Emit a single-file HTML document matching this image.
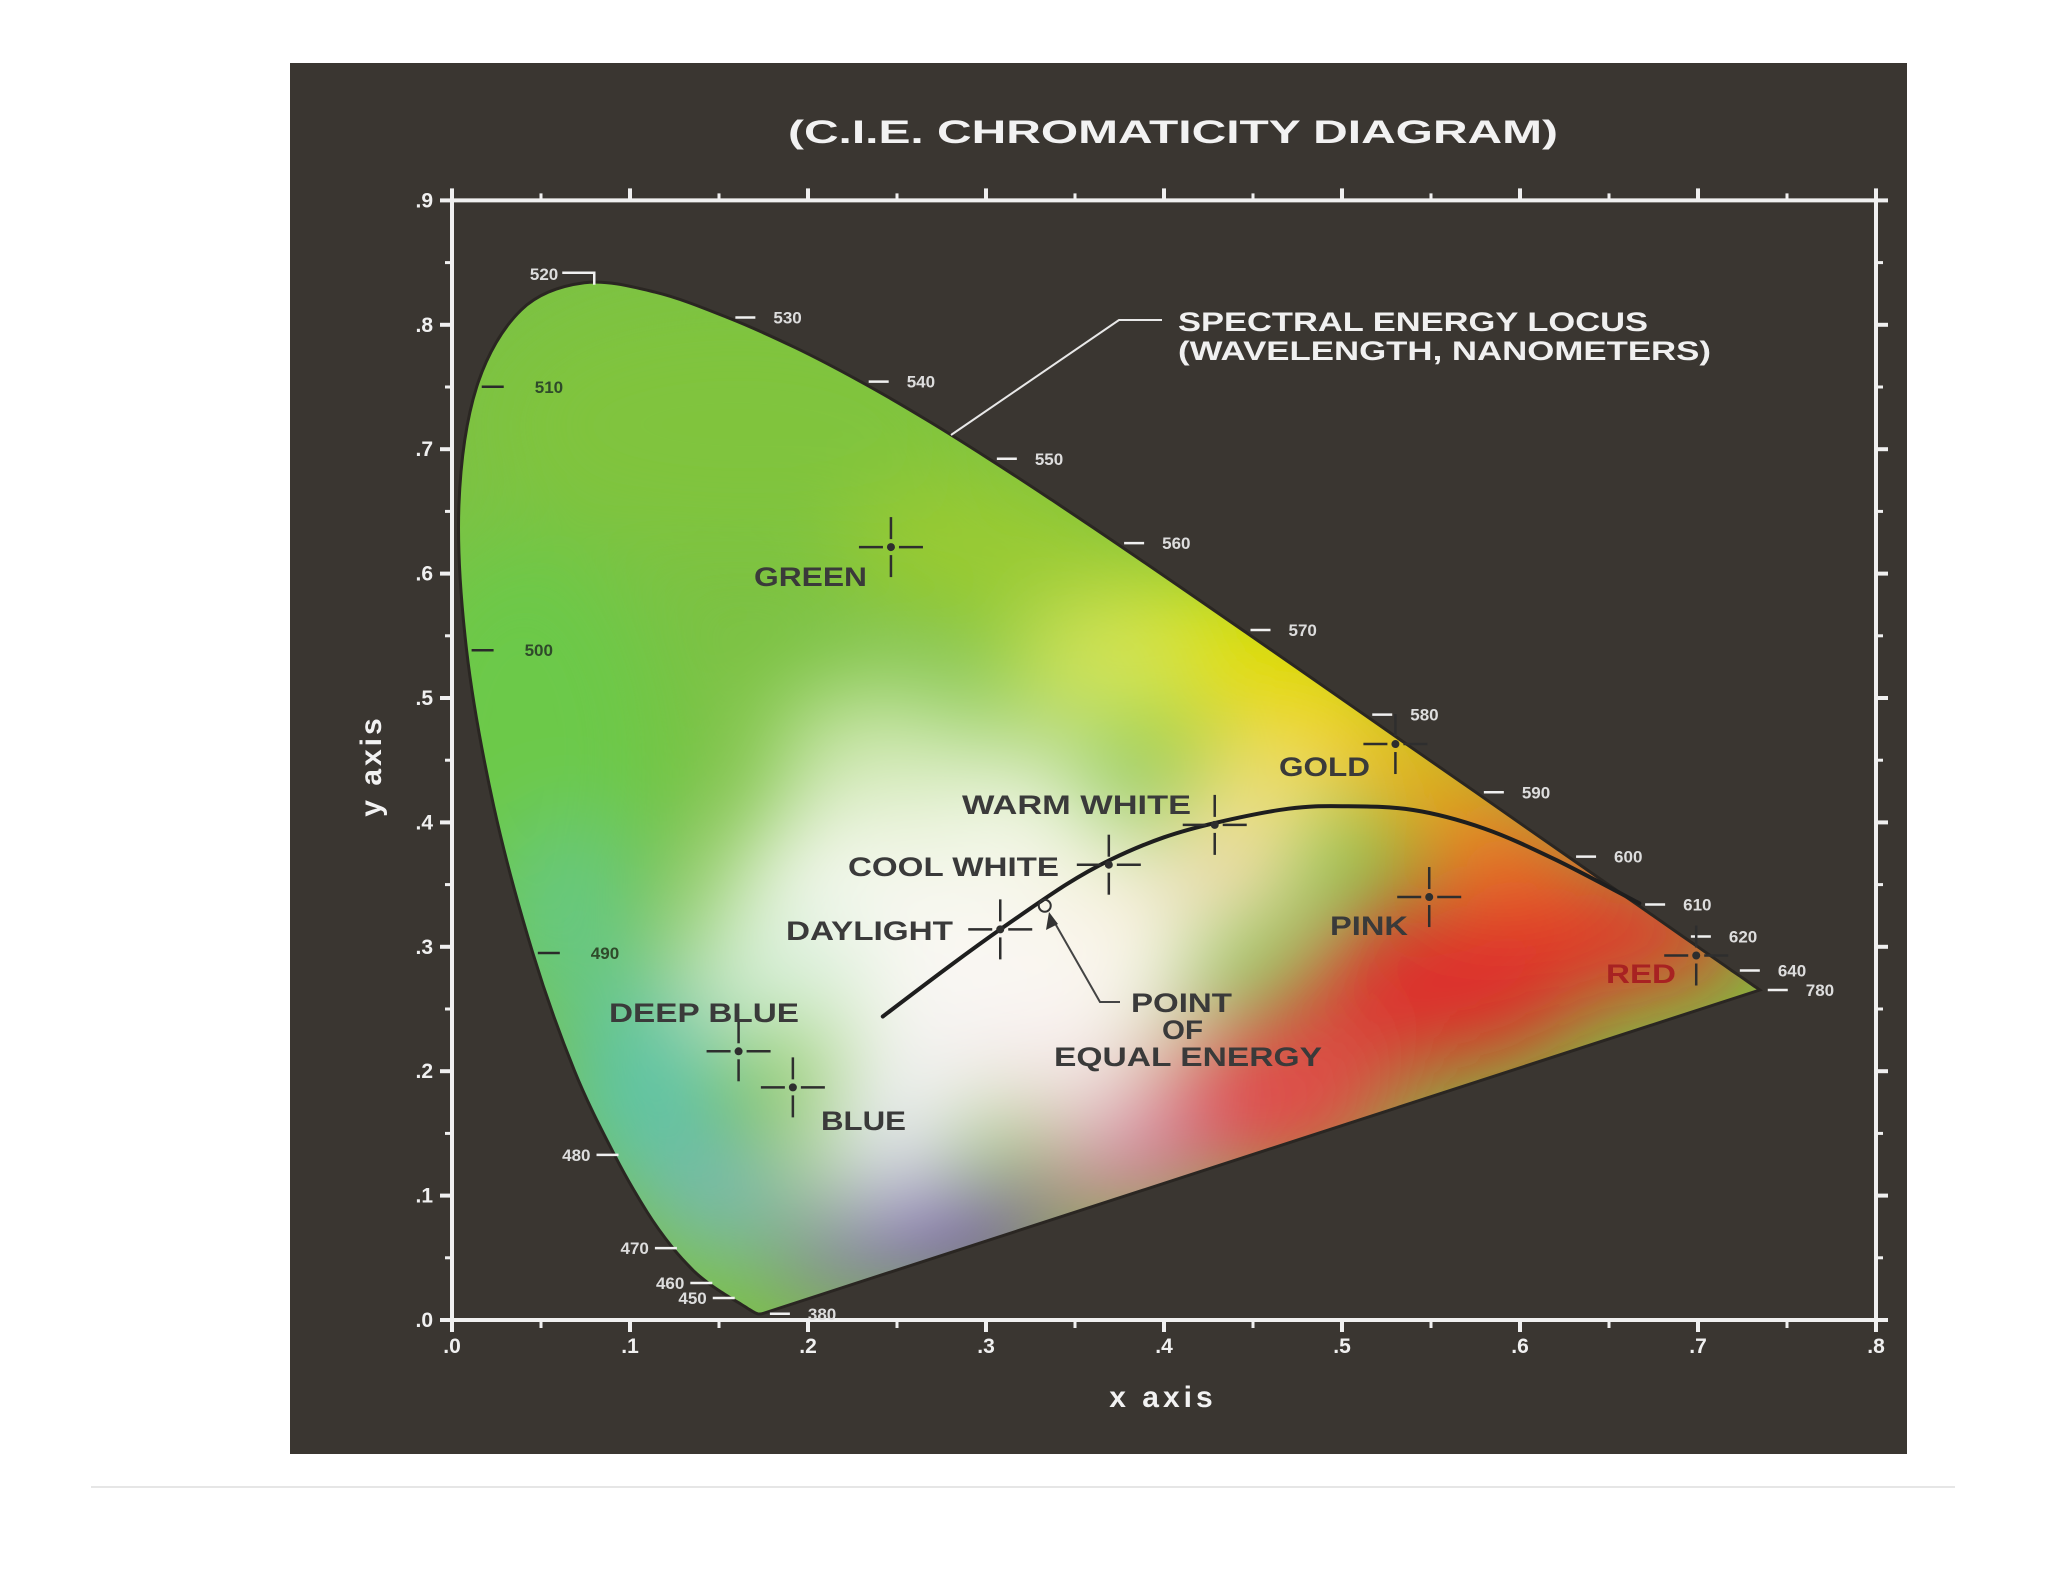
<!DOCTYPE html>
<html><head><meta charset="utf-8"><title>CIE Chromaticity Diagram</title>
<style>
html,body{margin:0;padding:0;background:#fff;width:2048px;height:1582px;overflow:hidden}
svg{display:block}
text{font-family:"Liberation Sans",sans-serif}
</style></head>
<body>
<svg id="chart" xmlns="http://www.w3.org/2000/svg" width="2048" height="1582" viewBox="0 0 2048 1582">
<defs>
  <filter id="blur" x="-50%" y="-50%" width="200%" height="200%"><feGaussianBlur stdDeviation="48"/></filter>
  <clipPath id="gamutClip"><path id="clipPathShape" d=""/></clipPath>
</defs>
<rect x="0" y="0" width="2048" height="1582" fill="#ffffff"/>
<rect x="290" y="63" width="1617" height="1391" fill="#3a3631"/>
<line x1="91" y1="1487" x2="1955" y2="1487" stroke="#e6e6e6" stroke-width="2"/>
<text x="788" y="143" font-size="32" font-weight="bold" fill="#f2f2f2" textLength="770" lengthAdjust="spacingAndGlyphs">(C.I.E. CHROMATICITY  DIAGRAM)</text>
<g id="gamutWrap"><g id="gamut" clip-path="url(#gamutClip)"></g></g>
<g id="axes"></g>
<g id="locusLabels"></g>
<g id="annot"></g>
<text x="1163" y="1407" font-size="30" font-weight="bold" fill="#f2f2f2" text-anchor="middle" letter-spacing="4">x axis</text>
<text x="0" y="0" transform="translate(381,766) rotate(-90)" font-size="30" font-weight="bold" fill="#f2f2f2" text-anchor="middle" letter-spacing="3">y axis</text>
</svg>
<script>
// ---- data ----
const locusWl = [380,385,390,395,400,405,410,415,420,425,430,435,440,445,450,455,460,465,470,475,480,485,490,495,500,505,510,515,520,525,530,535,540,545,550,555,560,565,570,575,580,585,590,595,600,605,610,615,620,625,630,635,640,645,650,660,680,700];
const locusX = [.1741,.1740,.1738,.1736,.1733,.1730,.1726,.1721,.1714,.1703,.1689,.1669,.1644,.1611,.1566,.1510,.1440,.1355,.1241,.1096,.0913,.0687,.0454,.0235,.0082,.0039,.0139,.0389,.0743,.1142,.1547,.1929,.2296,.2658,.3016,.3373,.3731,.4087,.4441,.4788,.5125,.5448,.5752,.6029,.6270,.6482,.6658,.6801,.6915,.7006,.7079,.7140,.7190,.7230,.7260,.7300,.7334,.7347];
const locusY = [.0050,.0050,.0049,.0049,.0048,.0048,.0048,.0048,.0051,.0058,.0069,.0086,.0109,.0138,.0177,.0227,.0297,.0399,.0578,.0868,.1327,.2007,.2950,.4127,.5384,.6548,.7502,.8120,.8338,.8262,.8059,.7816,.7543,.7243,.6923,.6589,.6245,.5896,.5547,.5202,.4866,.4544,.4242,.3965,.3725,.3514,.3340,.3197,.3083,.2993,.2920,.2859,.2809,.2770,.2740,.2700,.2666,.2653];
const labelWl = [380,450,460,470,480,490,500,510,520,530,540,550,560,570,580,590,600,610,620,640,700];
const labelText = ['380','450','460','470','480','490','500','510','520','530','540','550','560','570','580','590','600','610','620','640','780'];
const planckX = [.242,.28,.31,.345,.37,.40,.43,.47,.50,.54,.58,.62,.667];
const planckY = [.244,.285,.316,.350,.37,.388,.40,.411,.413,.41,.395,.37,.335];
const markerNames = ['green','gold','warm-white','cool-white','daylight','pink','red','deep-blue','blue'];
const markerX = [.2466,.530,.4285,.369,.308,.549,.699,.161,.1915];
const markerY = [.6213,.463,.398,.366,.314,.340,.293,.216,.187];
const equalEnergy = [.333,.333];
const xTicks = [0,.1,.2,.3,.4,.5,.6,.7,.8];
const xTickLabels = ['.0','.1','.2','.3','.4','.5','.6','.7','.8'];
const yTicks = [0,.1,.2,.3,.4,.5,.6,.7,.8,.9];
const yTickLabels = ['.0','.1','.2','.3','.4','.5','.6','.7','.8','.9'];

// ---- scales ----
const X = v => 452 + v*1780;
const Y = v => 1320 - v*1244;
const NS = 'http://www.w3.org/2000/svg';
function mk(tag, attrs, parent){const e=document.createElementNS(NS,tag);for(const k in attrs)e.setAttribute(k,attrs[k]);parent.appendChild(e);return e;}
function smooth(pts){
  let s='M'+pts[0][0].toFixed(1)+','+pts[0][1].toFixed(1);
  for(let i=0;i<pts.length-1;i++){
    const p0=pts[Math.max(0,i-1)],p1=pts[i],p2=pts[i+1],p3=pts[Math.min(pts.length-1,i+2)];
    const c1=[p1[0]+(p2[0]-p0[0])/6,p1[1]+(p2[1]-p0[1])/6];
    const c2=[p2[0]-(p3[0]-p1[0])/6,p2[1]-(p3[1]-p1[1])/6];
    s+=` C${c1[0].toFixed(1)},${c1[1].toFixed(1)} ${c2[0].toFixed(1)},${c2[1].toFixed(1)} ${p2[0].toFixed(1)},${p2[1].toFixed(1)}`;
  }
  return s;
}

// gamut outline
const pts = locusX.map((x,i)=>[X(x),Y(locusY[i])]);
let d = smooth(pts)+' Z';
document.getElementById('clipPathShape').setAttribute('d', d);
const gamut = document.getElementById('gamut');
const base = mk('path',{d:d,fill:'#7cc243'},gamut);


const blobs = mk('g',{filter:'url(#blur)'},gamut);
const blobList = [
 [.04,.45,.08,.18,'#6cc948'],[.16,.72,.14,.10,'#80c43c'],[.30,.62,.08,.06,'#9acb30'],
 [.42,.54,.08,.06,'#dde400'],[.48,.50,.06,.05,'#ecd800'],[.36,.52,.05,.05,'#d6e660'],
 [.54,.44,.05,.04,'#f3b018'],[.59,.38,.05,.04,'#f07020'],[.66,.31,.07,.05,'#e4302a'],
 [.56,.27,.08,.07,'#e02a2a'],[.46,.18,.07,.07,'#e24a4a'],[.38,.13,.05,.05,'#d07a9a'],
 [.28,.07,.06,.04,'#7a48b8'],[.22,.05,.04,.03,'#8a70c0'],
 [.11,.19,.05,.09,'#5fc4a4'],[.15,.10,.04,.05,'#78b8b8'],[.07,.32,.04,.08,'#66c884'],
 [.25,.33,.10,.10,'#f6f8f0'],[.33,.28,.09,.08,'#fbf8f4'],[.30,.40,.07,.06,'#f2f6e6'],
 [.38,.34,.05,.05,'#f8f2e0'],[.27,.20,.06,.05,'#f2f2f0'],[.18,.28,.05,.06,'#d8efd8'],
 [.45,.42,.05,.04,'#f4e27a'],[.44,.35,.04,.04,'#f6dcb8'],[.24,.14,.05,.04,'#e4e8ee'],
 [.34,.19,.05,.04,'#f4e4e4'],[.24,.46,.06,.05,'#cfe8b0']
];
blobList.forEach(b=>{mk('ellipse',{cx:X(b[0]),cy:Y(b[1]),rx:b[2]*1780,ry:b[3]*1244,fill:b[4]},blobs);});
const outline = mk('path',{d:d,fill:'none',stroke:'#2a2622','stroke-width':3},document.getElementById('gamutWrap'));



// axes
const ax = document.getElementById('axes');
const W='#f0f0f0';
mk('line',{x1:X(0),y1:Y(0),x2:X(.8),y2:Y(0),stroke:W,'stroke-width':4},ax);
mk('line',{x1:X(0),y1:Y(0),x2:X(0),y2:Y(.9)-4,stroke:W,'stroke-width':4},ax);
mk('line',{x1:X(0),y1:Y(.9),x2:X(.8),y2:Y(.9),stroke:W,'stroke-width':4},ax);
mk('line',{x1:X(.8),y1:Y(0),x2:X(.8),y2:Y(.9)-8,stroke:W,'stroke-width':4},ax);
for(let i=0;i<=16;i++){const v=i*0.05, maj=i%2===0;
  mk('line',{x1:X(v),y1:Y(0),x2:X(v),y2:Y(0)+(maj?12:8),stroke:W,'stroke-width':maj?4:3},ax);
  mk('line',{x1:X(v),y1:Y(.9),x2:X(v),y2:Y(.9)-(maj?12:7),stroke:W,'stroke-width':maj?4:3},ax);}
for(let i=0;i<=18;i++){const v=i*0.05, maj=i%2===0;
  mk('line',{x1:X(0),y1:Y(v),x2:X(0)-(maj?12:7),y2:Y(v),stroke:W,'stroke-width':maj?4:3},ax);
  mk('line',{x1:X(.8),y1:Y(v),x2:X(.8)+(maj?12:7),y2:Y(v),stroke:W,'stroke-width':maj?4:3},ax);}
xTicks.forEach((v,i)=>{const t=mk('text',{x:X(v),y:1353,'font-size':21,'font-weight':'bold',fill:W,'text-anchor':'middle'},ax);t.textContent=xTickLabels[i];
  
  });
yTicks.forEach((v,i)=>{const t=mk('text',{x:433,y:Y(v)+7,'font-size':21,'font-weight':'bold',fill:W,'text-anchor':'end'},ax);t.textContent=yTickLabels[i];
  
  });

// wavelength labels
const ll = document.getElementById('locusLabels');
labelWl.forEach((wl,i)=>{
  const k = locusWl.indexOf(wl); const px=X(locusX[k]), py=Y(locusY[k]);
  const g = mk('g',{},ll);
  
  
  let txt;
  if(wl===520){
    mk('path',{d:`M${px-22},${py-10} L${px+10},${py-10} L${px+10},${py+2}`,fill:'none',stroke:W,'stroke-width':2.5},g);
    txt=mk('text',{x:px-26,y:py-3,'font-size':17,'font-weight':'bold',fill:'#ddd','text-anchor':'end'},g);
  } else if(wl>=490 && wl<=510){
    mk('line',{x1:px+5,y1:py,x2:px+27,y2:py,stroke:'#2a2a2a','stroke-width':2.5},g);
    txt=mk('text',{x:px+58,y:py+6,'font-size':17,'font-weight':'bold',fill:'#2f4a2a'},g);
  } else if(wl>=450 && wl<=480){
    mk('line',{x1:px-18,y1:py,x2:px+4,y2:py,stroke:W,'stroke-width':2.5},g);
    txt=mk('text',{x:px-24,y:py+6,'font-size':17,'font-weight':'bold',fill:'#ddd','text-anchor':'end'},g);
  } else {
    mk('line',{x1:px+8,y1:py,x2:px+28,y2:py,stroke:W,'stroke-width':2.5},g);
    txt=mk('text',{x:px+46,y:py+6,'font-size':17,'font-weight':'bold',fill:'#ddd'},g);
  }
  txt.textContent=labelText[i];
});

// planckian locus
const an = document.getElementById('annot');
const pl = mk('path',{d:smooth(planckX.map((x,i)=>[X(x),Y(planckY[i])])),fill:'none',stroke:'#1e1e1e','stroke-width':4,'stroke-linecap':'round','stroke-linejoin':'round'},an);



// markers
markerNames.forEach((n,i)=>{
  const cx=X(markerX[i]), cy=Y(markerY[i]);
  const g=mk('g',{stroke:'#2e2e2e','stroke-width':2.5},an);
  
  
  mk('line',{x1:cx-32,y1:cy,x2:cx-8,y2:cy},g);mk('line',{x1:cx+8,y1:cy,x2:cx+32,y2:cy},g);
  mk('line',{x1:cx,y1:cy-30,x2:cx,y2:cy-8},g);mk('line',{x1:cx,y1:cy+8,x2:cx,y2:cy+30},g);
  mk('circle',{cx:cx,cy:cy,r:4,fill:'#2e2e2e',stroke:'none'},g);
});
// equal energy point
const ee=mk('circle',{cx:X(equalEnergy[0]),cy:Y(equalEnergy[1]),r:6,fill:'none',stroke:'#333','stroke-width':2},an);


const eeLine=mk('path',{d:`M1120,1002 L1100,1002 L1052,918`,fill:'none',stroke:'#444','stroke-width':2},an);


const arr=mk('path',{d:'M1049,912 L1046,930 L1058,924 Z',fill:'#333'},an);



// spectral locus leader
const sl=mk('path',{d:'M951,435 L1119,320 L1162,320',fill:'none',stroke:'#e8e8e8','stroke-width':2},an);



// text labels [text,x,y,width,fill,name]
const labels=[
 ['SPECTRAL ENERGY LOCUS',1178,331,470,'#f0f0f0','spectral-locus-label'],
 ['(WAVELENGTH, NANOMETERS)',1178,360,533,'#f0f0f0','spectral-locus-sublabel'],
 ['GREEN',754,586,113,'#3a3a3a','label-green'],
 ['GOLD',1279,776,91,'#3a3a3a','label-gold'],
 ['WARM WHITE',962,814,229,'#3a3a3a','label-warm-white'],
 ['COOL WHITE',848,876,211,'#3a3a3a','label-cool-white'],
 ['DAYLIGHT',786,940,167,'#3a3a3a','label-daylight'],
 ['PINK',1330,935,78,'#3a3a3a','label-pink'],
 ['RED',1606,983,70,'#a82222','label-red'],
 ['DEEP BLUE',609,1022,190,'#3a3a3a','label-deep-blue'],
 ['BLUE',821,1130,85,'#3a3a3a','label-blue'],
 ['POINT',1131,1012,101,'#3a3a3a','label-point'],
 ['OF',1162,1039,41,'#3a3a3a','label-of'],
 ['EQUAL ENERGY',1054,1066,268,'#3a3a3a','label-equal-energy']
];
labels.forEach(l=>{
  const t=mk('text',{x:l[1],y:l[2],'font-size':27,'font-weight':'bold',fill:l[4],textLength:l[3],lengthAdjust:'spacingAndGlyphs'},an);
  t.textContent=l[0];
  
  
});
</script>
</body></html>
